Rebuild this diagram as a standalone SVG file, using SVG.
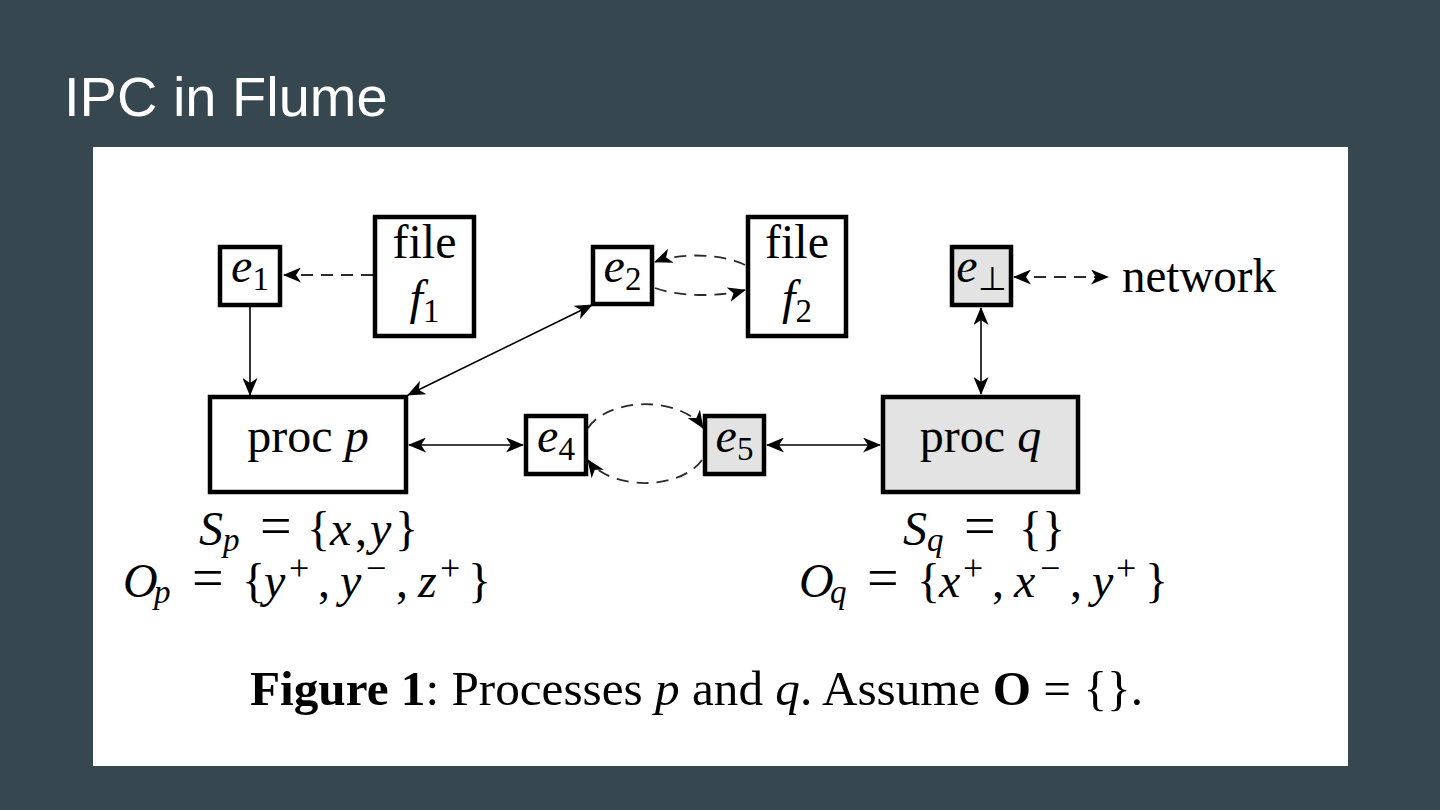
<svg xmlns="http://www.w3.org/2000/svg" width="1440" height="810" viewBox="0 0 1440 810">
<style>
.node{fill:#fff;stroke:#000;stroke-width:4.5}
.gray{fill:#e3e3e3}
.t{font-family:"Liberation Serif","Times New Roman",serif;font-size:48px;fill:#000}
.it{font-style:italic}
.sub{font-size:33px}
.ss{font-size:36px}
.eq{font-size:56px}
.edge{fill:none;stroke:#000;stroke-width:1.6}
.dash{fill:none;stroke:#2a2a2a;stroke-width:1.8;stroke-dasharray:12 8}
</style>
<defs>
<marker id="ah" viewBox="0 0 18 15" markerWidth="18" markerHeight="15" refX="17" refY="7.5" orient="auto-start-reverse" markerUnits="userSpaceOnUse">
<path d="M0,0 L18,7.5 L0,15 L5,7.5 z" fill="#000"/>
</marker>
</defs>
<rect x="0" y="0" width="1440" height="810" fill="#37474f"/>
<text x="64" y="116" font-family="'Liberation Sans',Arial,sans-serif" font-size="56" fill="#fff">IPC in Flume</text>
<rect x="93" y="147" width="1255" height="619" fill="#fff"/>

<g id="connectors">
<line class="edge" x1="250" y1="307" x2="250" y2="395" marker-end="url(#ah)"/>
<line class="dash" x1="373" y1="275" x2="284" y2="275" marker-end="url(#ah)"/>
<line class="edge" x1="408" y1="395" x2="592" y2="305" marker-start="url(#ah)" marker-end="url(#ah)"/>
<line class="edge" x1="409" y1="445" x2="523" y2="445" marker-start="url(#ah)" marker-end="url(#ah)"/>
<line class="edge" x1="767" y1="445" x2="880" y2="445" marker-start="url(#ah)" marker-end="url(#ah)"/>
<line class="edge" x1="981" y1="308" x2="981" y2="394" marker-start="url(#ah)" marker-end="url(#ah)"/>
<line class="dash" x1="1014" y1="277" x2="1108" y2="277" marker-start="url(#ah)" marker-end="url(#ah)"/>
<path class="dash" d="M745,265 C725,254 680,252 655,262" marker-end="url(#ah)"/>
<path class="dash" d="M655,288 C680,297 720,297 745,290" marker-end="url(#ah)"/>
<path class="dash" d="M588,428 A62,38 0 0 1 703,428" marker-end="url(#ah)"/>
<path class="dash" d="M702,460 A62,38 0 0 1 588,460" marker-end="url(#ah)"/>
</g>

<g id="e1">
<rect class="node" x="220" y="247" width="60" height="58"/>
<text class="t" x="250" y="282" text-anchor="middle"><tspan class="it">e</tspan><tspan class="sub" dy="8">1</tspan></text>
</g>
<g id="f1">
<rect class="node" x="375" y="217" width="99" height="119"/>
<text class="t" x="424.5" y="258" text-anchor="middle">file</text>
<text class="t" x="424.5" y="314" text-anchor="middle"><tspan class="it">f</tspan><tspan class="sub" dy="8">1</tspan></text>
</g>
<g id="e2">
<rect class="node" x="593" y="247" width="59" height="57"/>
<text class="t" x="622.5" y="282" text-anchor="middle"><tspan class="it">e</tspan><tspan class="sub" dy="8">2</tspan></text>
</g>
<g id="f2">
<rect class="node" x="748" y="217" width="98" height="119"/>
<text class="t" x="797" y="258" text-anchor="middle">file</text>
<text class="t" x="797" y="314" text-anchor="middle"><tspan class="it">f</tspan><tspan class="sub" dy="8">2</tspan></text>
</g>
<g id="ebot">
<rect class="node gray" x="952" y="247" width="59" height="58"/>
<text class="t" x="981.5" y="282" text-anchor="middle"><tspan class="it">e</tspan><tspan class="sub" dy="8">⊥</tspan></text>
</g>
<g id="network">
<text class="t" x="1122" y="292" textLength="154" lengthAdjust="spacingAndGlyphs">network</text>
</g>
<g id="procp">
<rect class="node" x="210" y="397" width="196" height="95"/>
<text class="t" x="308" y="452" text-anchor="middle">proc <tspan class="it">p</tspan></text>
</g>
<g id="e4">
<rect class="node" x="526" y="416" width="60" height="58"/>
<text class="t" x="556" y="452" text-anchor="middle"><tspan class="it">e</tspan><tspan class="sub" dy="8">4</tspan></text>
</g>
<g id="e5">
<rect class="node gray" x="705" y="416" width="59" height="58"/>
<text class="t" x="734.5" y="452" text-anchor="middle"><tspan class="it">e</tspan><tspan class="sub" dy="8">5</tspan></text>
</g>
<g id="procq">
<rect class="node gray" x="883" y="397" width="195" height="95"/>
<text class="t" x="980.5" y="452" text-anchor="middle">proc <tspan class="it">q</tspan></text>
</g>

<g id="labels">
<text class="t" y="545"><tspan class="it" x="199">S</tspan><tspan class="sub it" x="223" dy="6">p</tspan><tspan class="eq" x="260" dy="-6">=</tspan><tspan x="307">{</tspan><tspan class="it" x="330">x</tspan><tspan x="355">,</tspan><tspan class="it" x="370">y</tspan><tspan x="395">}</tspan></text>
<text class="t" y="597"><tspan class="it" x="123">O</tspan><tspan class="sub it" x="154" dy="6">p</tspan><tspan class="eq" x="192" dy="-6">=</tspan><tspan x="242">{</tspan><tspan class="it" x="264">y</tspan><tspan class="ss" x="289" dy="-17">+</tspan><tspan x="318" dy="17">,</tspan><tspan class="it" x="340">y</tspan><tspan class="ss" x="366" dy="-17">−</tspan><tspan x="396" dy="17">,</tspan><tspan class="it" x="418">z</tspan><tspan class="ss" x="440" dy="-17">+</tspan><tspan x="468" dy="17">}</tspan></text>
<text class="t" y="545"><tspan class="it" x="903">S</tspan><tspan class="sub it" x="927" dy="6">q</tspan><tspan class="eq" x="964" dy="-6">=</tspan><tspan x="1019">{}</tspan></text>
<text class="t" y="597"><tspan class="it" x="799">O</tspan><tspan class="sub it" x="830" dy="6">q</tspan><tspan class="eq" x="867" dy="-6">=</tspan><tspan x="917">{</tspan><tspan class="it" x="939">x</tspan><tspan class="ss" x="963" dy="-17">+</tspan><tspan x="992" dy="17">,</tspan><tspan class="it" x="1014">x</tspan><tspan class="ss" x="1040" dy="-17">−</tspan><tspan x="1070" dy="17">,</tspan><tspan class="it" x="1092">y</tspan><tspan class="ss" x="1116" dy="-17">+</tspan><tspan x="1145" dy="17">}</tspan></text>
<text class="t" x="250" y="705" textLength="893" lengthAdjust="spacingAndGlyphs" xml:space="preserve"><tspan font-weight="bold">Figure 1</tspan>: Processes <tspan class="it">p</tspan> and <tspan class="it">q</tspan>. Assume <tspan font-weight="bold">O</tspan> = {}.</text>
</g>
</svg>
